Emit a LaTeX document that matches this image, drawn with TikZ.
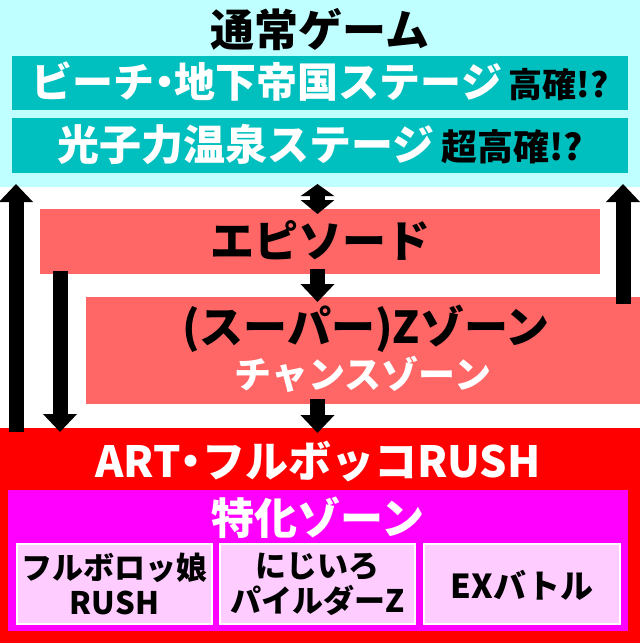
\documentclass[tikz,border=0pt]{standalone}
\usepackage{fontspec}
\setmainfont{Noto Sans CJK JP}
\usetikzlibrary{arrows.meta}
\definecolor{cyanbg}{RGB}{192,255,255}
\definecolor{tealbox}{RGB}{0,191,191}
\definecolor{salmon}{RGB}{255,102,102}
\definecolor{redbox}{RGB}{255,0,0}
\definecolor{magbox}{RGB}{255,0,255}
\definecolor{pinkbox}{RGB}{255,204,255}
\newcommand{\fs}[1]{\fontsize{#1}{#1}\selectfont}
\newcommand{\ndot}{\kern-.25em・\kern-.25em}
\tikzset{
  area/.style={draw=none, inner sep=0pt, outer sep=0pt},
  lbl/.style={inner sep=0pt, align=center},
  sub/.style={area, draw=white, line width=2pt, fill=pinkbox},
  bigarrow/.style={line width=15pt, -{Triangle[width=33pt,length=18pt]}},
  dblarrow/.style={line width=15pt, {Triangle[width=33pt,length=12pt]}-{Triangle[width=33pt,length=14pt]}},
}
\begin{document}
\begin{tikzpicture}[x=1pt,y=-1pt]
\useasboundingbox (0,0) rectangle (640,643);
\fill[white] (0,0) rectangle (640,643);
% top area
\node[area, fill=cyanbg, minimum width=640pt, minimum height=187pt] (cyan) at (320,93.5) {};
\node[lbl, font=\bfseries\fs{44}] (title) at (320,30) {通常ゲーム};
\node[area, fill=tealbox, minimum width=616pt, minimum height=54pt] (st1) at (320,83) {};
\node[lbl, font=\bfseries] (st1t) at (320,82) {\fs{41}\color{white}ビーチ\ndot 地下帝国ステージ\,\fs{34}\color{black}高確!?};
\node[area, fill=tealbox, minimum width=616pt, minimum height=55pt] (st2) at (320,145.5) {};
\node[lbl, font=\bfseries] (st2t) at (320,144) {\fs{42}\color{white}光子力温泉ステージ\,\fs{36}\color{black}超高確!?};
% episode
\node[area, fill=salmon, minimum width=560pt, minimum height=65pt] (ep) at (320,241.5) {};
\node[lbl, font=\bfseries\fs{44}] (ept) at (320,240) {エピソード};
% Z zone
\node[area, fill=salmon, minimum width=554pt, minimum height=107pt] (zz) at (363,350.5) {};
\node[lbl, font=\bfseries\fs{44}] (zzt) at (366,329) {(スーパー)Zゾーン};
\node[lbl, font=\bfseries\fs{37}, text=white] (zzc) at (363,374.5) {チャンスゾーン};
% ART
\node[area, fill=redbox, minimum width=640pt, minimum height=215pt] (art) at (320,535.5) {};
\node[lbl, font=\bfseries\fs{43}, text=white] (artt) at (318,461) {ART\ndot フルボッコRUSH};
\node[area, fill=magbox, minimum width=620pt, minimum height=141pt] (tok) at (318,560.5) {};
\node[lbl, font=\bfseries\fs{43}, text=white] (tokt) at (318,517.5) {特化ゾーン};
\node[sub, minimum width=195pt, minimum height=80pt] (b1) at (114.5,584) {};
\node[sub, minimum width=195pt, minimum height=80pt] (b2) at (317.5,584) {};
\node[sub, minimum width=196pt, minimum height=80pt] (b3) at (522,584) {};
\node[lbl, font=\bfseries\fs{31}] (b1t) at (114.5,584) {フルボロッ娘\\[4pt]RUSH};
\node[lbl, font=\bfseries\fs{31}] (b2t) at (317.5,584) {にじいろ\\[4pt]パイルダーZ};
\node[lbl, font=\bfseries\fs{33}] (b3t) at (522,585) {EXバトル};
% arrows
\draw[bigarrow] ([shift={(16,4)}]art.north west) -- ([shift={(16,-3)}]cyan.south west);
\draw[bigarrow] ([shift={(20,-3)}]ep.south west) -- ([shift={(60,4)}]art.north west);
\draw[bigarrow] ([shift={(-17,7)}]zz.north east) -- ([shift={(-17,-3)}]cyan.south east);
\draw[dblarrow] ([shift={(-2.5,-3)}]cyan.south) -- ([shift={(-2.5,5)}]ep.north);
\draw[bigarrow] ([shift={(-2.5,-5)}]ep.south) -- ([shift={(-45.5,5)}]zz.north);
\draw[bigarrow] ([shift={(-45.5,-5)}]zz.south) -- ([shift={(-2.5,5)}]art.north);
\end{tikzpicture}
\end{document}
